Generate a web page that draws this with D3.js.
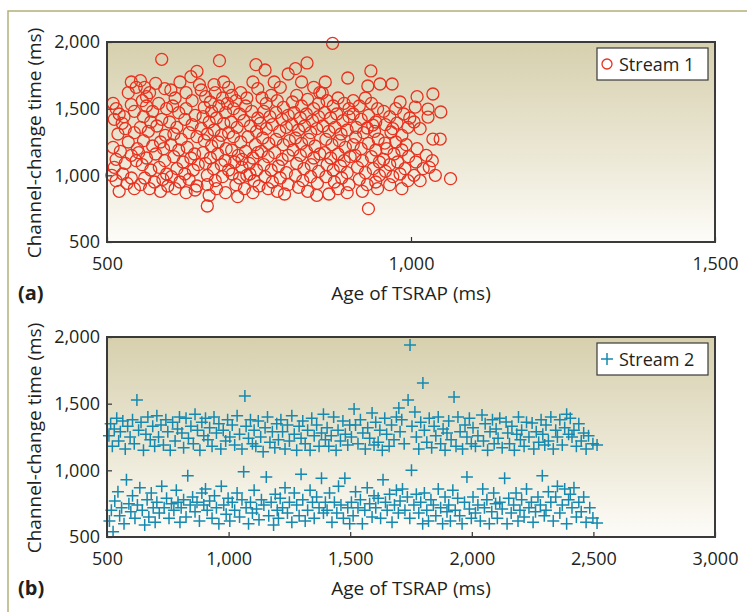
<!DOCTYPE html>
<html>
<head>
<meta charset="utf-8">
<script src="https://cdn.jsdelivr.net/npm/d3@7"></script>
<style>
  body { margin: 0; background: #fff; }
  svg text { font-family: "Open Sans", Lato, sans-serif; fill: #231f20; }
</style>
</head>
<body>
<div id="chart"></div>
<script>
// ---- data ----
// stream 1: [age of TSRAP (ms), channel-change time (ms)]
const stream1Points = [
  [510,1540],[515,1500],[520,1460],[512,1420],[525,1390],[540,1530],[545,1480],[530,1350],[518,1310],[535,1250],
  [510,1210],[522,1180],[540,1150],[515,1120],[530,1090],[548,1110],[512,1060],[526,1010],[540,980],[515,960],
  [533,940],[545,900],[520,880],[540,1700],[548,1660],[535,1620],[528,1440],[545,1320],[508,1000],[550,1200],
  [555,1710],[562,1660],[570,1620],[580,1690],[590,1870],[595,1650],[558,1560],[565,1520],[575,1480],[585,1540],
  [598,1500],[560,1440],[572,1400],[590,1420],[555,1360],[568,1330],[582,1370],[596,1300],[560,1260],[575,1220],
  [588,1250],[552,1170],[565,1130],[580,1160],[595,1110],[558,1080],[572,1040],[586,1060],[598,1010],[562,980],
  [578,950],[592,970],[555,930],[570,900],[588,880],[600,920],[565,1590],[593,1200],
  [605,1640],[612,1580],[620,1700],[630,1620],[640,1560],[648,1780],[608,1520],[618,1470],[630,1500],[645,1450],
  [603,1400],[615,1360],[628,1420],[640,1380],[610,1310],[622,1270],[635,1320],[648,1290],[605,1230],[618,1190],
  [632,1210],[644,1160],[610,1140],[625,1100],[638,1130],[650,1080],[615,1050],[628,1010],[642,1040],[606,990],
  [620,950],[635,970],[648,920],[612,900],[630,870],[645,890],[652,1680],[638,1740],
  [655,1640],[662,1590],[670,1550],[678,1620],[685,1860],[690,1580],[698,1540],[660,1510],[672,1480],[684,1520],
  [695,1470],[658,1440],[668,1400],[680,1430],[692,1390],[655,1350],[665,1310],[676,1340],[688,1300],[700,1320],
  [660,1260],[672,1220],[683,1250],[696,1200],[658,1170],[670,1130],[682,1160],[694,1110],[662,1090],[675,1050],
  [688,1080],[700,1040],[665,1000],[678,960],[690,990],[665,930],[680,900],[695,870],[665,770],[668,850],
  [700,1660],[692,1700],[676,1680],
  [705,1600],[712,1560],[720,1620],[730,1580],[740,1700],[748,1650],[760,1790],[745,1830],[708,1500],[718,1460],
  [728,1520],[738,1480],[748,1430],[704,1400],[714,1360],[725,1410],[736,1370],[746,1330],[708,1290],[720,1250],
  [732,1290],[744,1230],[705,1190],[716,1150],[728,1180],[740,1130],[748,1170],[710,1100],[722,1060],[734,1090],
  [746,1040],[706,1010],[718,980],[730,1000],[742,960],[712,930],[726,900],[740,870],[750,920],[715,840],
  [735,1010],[722,1120],
  [755,1580],[762,1540],[770,1600],[780,1560],[790,1510],[798,1760],[785,1660],[775,1700],[758,1480],[768,1440],
  [778,1470],[788,1420],[798,1450],[752,1390],[762,1350],[772,1380],[784,1330],[795,1360],[756,1280],[766,1240],
  [778,1270],[790,1230],[800,1260],[754,1180],[765,1140],[776,1170],[788,1120],[798,1150],[758,1080],[770,1040],
  [782,1070],[795,1020],[760,990],[772,950],[785,980],[798,930],[765,900],[780,880],[792,860],[810,1800],
  [805,1550],[812,1600],[820,1520],[830,1570],[840,1500],[848,1540],[808,1470],[818,1430],[828,1460],[838,1410],
  [848,1440],[804,1380],[815,1340],[825,1370],[835,1320],[845,1350],[810,1280],[820,1240],[832,1270],[842,1220],
  [806,1190],[818,1150],[828,1180],[840,1130],[850,1160],[812,1090],[824,1050],[836,1080],[848,1030],[810,1000],
  [822,960],[835,990],[846,940],[815,910],[830,880],[845,850],[829,1843],[820,1700],[840,1660],[850,1620],
  [854,1617],[859,1700],[871,1990],[862,1560],[872,1520],[880,1580],[890,1540],[896,1730],[898,1500],[858,1470],
  [868,1430],[878,1460],[888,1410],[898,1440],[855,1370],[865,1330],[875,1360],[885,1310],[895,1340],[860,1270],
  [870,1230],[882,1260],[892,1210],[858,1170],[868,1130],[880,1160],[890,1110],[900,1140],[862,1080],[872,1040],
  [884,1070],[895,1020],[860,990],[874,950],[886,980],[898,930],[880,900],[865,860],[895,870],
  [909,1287],[928,1355],[937,1377],[946,1272],[934,1783],[929,1670],[949,1685],[905,1560],[915,1520],[925,1580],
  [935,1540],[945,1500],[905,1460],[918,1420],[930,1450],[942,1400],[910,1360],[922,1320],[940,1330],[905,1230],
  [918,1200],[930,1240],[942,1190],[908,1150],[920,1110],[935,1140],[948,1100],[912,1060],[925,1020],[938,1050],
  [948,1000],[915,970],[928,930],[942,950],[930,750],[920,880],[945,900],[957,1242],
  [969,1685],[982,1550],[977,1392],[967,1325],[955,1480],[965,1440],[975,1500],[988,1460],[998,1430],[958,1380],
  [970,1350],[985,1300],[995,1360],[960,1200],[972,1160],[985,1190],[996,1140],[955,1120],[965,1080],[978,1100],
  [990,1050],[958,1030],[970,990],[982,1010],[995,960],[965,930],[985,900],[975,1250],[992,1230],
  [1010,1590],[1007,1512],[1028,1497],[1049,1475],[1028,1437],[1036,1610],[1036,1272],[1048,1272],[1065,975],[1005,1400],
  [1015,1350],[1025,1150],[1035,1110],[1010,1200],[1020,1050],[1040,1000],[1005,1000],[1015,960],[1030,1060],[1008,1100]
];

// stream 2: [age of TSRAP (ms), channel-change time (ms)]
const stream2Points = [
  [508,1260],[515,1350],[522,1180],[530,1310],[540,1390],[548,1220],[555,1290],[565,1370],[575,1160],[585,1330],[595,1250],
  [510,620],[525,540],[518,700],[532,770],[545,840],[552,660],[560,720],[570,600],[580,930],[590,750],[598,690],
  [605,1380],[612,1200],[623,1527],[630,1300],[640,1360],[650,1150],[660,1270],[668,1400],[678,1230],[688,1330],[696,1180],
  [605,810],[615,640],[625,740],[635,870],[645,700],[655,590],[665,780],[672,650],[682,830],[690,720],[698,610],
  [705,1410],[712,1250],[722,1340],[732,1190],[742,1380],[750,1290],[760,1150],[770,1360],[780,1220],[790,1310],[798,1400],
  [705,760],[715,680],[725,880],[735,720],[745,790],[755,640],[765,750],[775,700],[785,850],[792,760],[800,610],
  [808,1280],[815,1170],[825,1390],[835,1240],[845,1330],[855,1200],[862,1420],[872,1300],[882,1150],[890,1360],[898,1260],
  [805,720],[815,780],[825,650],[832,960],[842,740],[852,800],[862,690],[870,760],[880,620],[890,830],[898,740],
  [905,1390],[915,1230],[922,1320],[932,1180],[940,1400],[950,1280],[960,1350],[968,1160],[978,1300],[988,1220],[996,1380],
  [905,860],[912,700],[922,770],[932,640],[942,810],[950,720],[960,600],[970,880],[980,740],[990,670],[998,790],
  [1005,1250],[1015,1340],[1025,1190],[1035,1410],[1045,1270],[1055,1160],[1067,1557],[1072,1330],[1082,1240],[1090,1380],[1098,1200],
  [1005,620],[1015,760],[1025,700],[1035,830],[1045,650],[1055,780],[1062,990],[1072,720],[1082,600],[1090,760],[1098,680],
  [1105,1300],[1112,1180],[1122,1370],[1132,1250],[1142,1140],[1150,1320],[1160,1400],[1170,1210],[1180,1290],[1190,1170],[1198,1350],
  [1105,850],[1115,710],[1125,630],[1135,780],[1145,740],[1155,950],[1165,660],[1175,760],[1185,590],[1192,820],[1200,700],
  [1205,1230],[1215,1380],[1222,1290],[1232,1160],[1242,1340],[1250,1220],[1260,1410],[1270,1270],[1280,1150],[1290,1330],[1298,1240],
  [1205,640],[1212,790],[1222,720],[1232,870],[1242,680],[1250,760],[1260,610],[1270,830],[1280,740],[1290,660],[1298,970],
  [1305,1370],[1315,1200],[1325,1300],[1335,1150],[1342,1390],[1352,1260],[1362,1340],[1372,1180],[1382,1280],[1390,1420],[1398,1230],
  [1305,780],[1315,620],[1325,700],[1335,850],[1345,760],[1352,640],[1362,800],[1372,720],[1382,940],[1390,680],[1398,760],
  [1405,1320],[1412,1180],[1422,1260],[1432,1400],[1442,1150],[1450,1300],[1460,1220],[1470,1370],[1480,1270],[1490,1190],[1498,1340],
  [1405,700],[1415,830],[1425,610],[1435,760],[1445,680],[1452,880],[1462,740],[1472,640],[1478,940],[1490,720],[1498,600],
  [1505,1250],[1516,1460],[1522,1340],[1532,1200],[1542,1380],[1552,1280],[1562,1160],[1572,1320],[1580,1240],[1590,1430],[1598,1190],
  [1505,760],[1512,660],[1522,840],[1532,720],[1542,780],[1550,600],[1560,700],[1570,870],[1580,750],[1590,650],[1598,810],
  [1605,1360],[1615,1210],[1622,1300],[1632,1150],[1642,1390],[1650,1270],[1660,1180],[1670,1340],[1680,1230],[1690,1400],[1700,1467],
  [1605,720],[1615,790],[1625,640],[1635,930],[1645,760],[1652,700],[1662,820],[1672,610],[1682,740],[1690,850],[1698,680],
  [1705,1290],[1712,1380],[1722,1200],[1738,1527],[1746,1940],[1754,1330],[1766,1437],[1772,1250],[1782,1160],[1790,1360],[1799,1655],
  [1705,770],[1715,860],[1725,700],[1735,800],[1745,640],[1752,1000],[1762,740],[1772,820],[1782,680],[1790,760],[1798,600],
  [1805,1300],[1815,1210],[1825,1390],[1835,1170],[1845,1330],[1852,1260],[1862,1400],[1872,1200],[1882,1310],[1890,1150],[1898,1280],
  [1805,830],[1815,700],[1822,620],[1832,780],[1842,740],[1852,660],[1862,860],[1872,720],[1880,600],[1890,800],[1898,690],
  [1905,1370],[1915,1230],[1927,1550],[1935,1180],[1943,1400],[1952,1290],[1962,1160],[1972,1340],[1980,1250],[1990,1390],[1998,1200],
  [1905,740],[1912,620],[1922,850],[1932,700],[1942,790],[1950,660],[1960,600],[1970,760],[1980,950],[1990,710],[1998,640],
  [2005,1320],[2015,1180],[2025,1260],[2042,1415],[2048,1220],[2055,1350],[2065,1150],[2075,1290],[2085,1380],[2092,1200],[2100,1310],
  [2005,800],[2015,680],[2025,740],[2035,620],[2045,860],[2052,720],[2062,780],[2072,600],[2082,690],[2090,830],[2098,750],
  [2108,1240],[2115,1390],[2125,1170],[2141,1362],[2148,1280],[2155,1200],[2165,1330],[2175,1150],[2185,1270],[2192,1400],[2200,1230],
  [2105,640],[2115,760],[2125,710],[2135,940],[2145,600],[2152,790],[2162,680],[2172,740],[2182,830],[2190,620],[2198,700],
  [2205,1300],[2215,1180],[2225,1360],[2235,1250],[2248,1355],[2255,1160],[2265,1290],[2275,1210],[2285,1380],[2292,1270],[2300,1190],
  [2205,780],[2215,650],[2225,860],[2235,720],[2245,760],[2252,610],[2262,690],[2272,800],[2282,740],[2290,960],[2298,660],
  [2305,1340],[2315,1220],[2325,1400],[2335,1160],[2345,1300],[2352,1250],[2362,1380],[2372,1190],[2382,1320],[2390,1420],[2398,1270],
  [2305,700],[2315,840],[2325,760],[2335,620],[2345,800],[2352,880],[2362,680],[2372,740],[2382,860],[2390,600],[2398,780],
  [2405,1390],[2412,1250],[2420,1300],[2430,1180],[2440,1350],[2450,1220],[2460,1280],[2470,1160],[2480,1260],[2498,1200],[2515,1190],
  [2405,820],[2412,720],[2420,870],[2430,650],[2440,760],[2450,690],[2460,800],[2470,610],[2485,720],[2498,643],[2515,605]
];

const yTicks = [500, 1000, 1500, 2000];
const xTicksA = [500, 1000, 1500];
const xTicksB = [500, 1000, 1500, 2000, 2500, 3000];

const yTitle = "Channel-change time (ms)";
const xTitle = "Age of TSRAP (ms)";

// ---- page ----
const width = 747;
const height = 612;

const svg = d3.select("#chart")
  .append("svg")
  .attr("width", width)
  .attr("height", height);

// background gradient used by both plot areas
const grad = svg.append("defs")
  .append("linearGradient")
  .attr("id", "bg")
  .attr("x1", 0).attr("y1", 0)
  .attr("x2", 0).attr("y2", 1);
grad.append("stop").attr("offset", "0%").attr("stop-color", "#d6d0ae");
grad.append("stop").attr("offset", "55%").attr("stop-color", "#ebe7d4");
grad.append("stop").attr("offset", "100%").attr("stop-color", "#fdfcf8");

// olive frame on top and left of figure
svg.append("path")
  .attr("d", "M8,612V11H747")
  .attr("fill", "none")
  .attr("stroke", "#b4ae78")
  .attr("stroke-width", 1.5);

const fmt = d3.format(",");

function drawPanel(opts) {
  const left = 107, right = 715;
  const top = opts.top, bottom = opts.top + 200;

  const x = d3.scaleLinear().domain(opts.xDomain).range([left, right]);
  const y = d3.scaleLinear().domain([500, 2000]).range([bottom, top]);

  const g = svg.append("g");

  g.append("rect")
    .attr("x", left).attr("y", top)
    .attr("width", right - left).attr("height", bottom - top)
    .attr("fill", "url(#bg)");

  // axes, ticks pointing inward
  const xAxis = d3.axisBottom(x)
    .tickValues(opts.xTicks)
    .tickSize(-5)
    .tickPadding(15)
    .tickFormat(fmt);

  const yAxis = d3.axisLeft(y)
    .tickValues(yTicks)
    .tickSize(-5)
    .tickPadding(7)
    .tickFormat(fmt);

  const gx = g.append("g")
    .attr("transform", `translate(0,${bottom})`)
    .call(xAxis);
  const gy = g.append("g")
    .attr("transform", `translate(${left},0)`)
    .call(yAxis);

  [gx, gy].forEach((a) => {
    a.select(".domain").remove();
    a.selectAll(".tick line").attr("stroke", "#333").attr("stroke-width", 1.2);
    a.selectAll(".tick text")
      .attr("font-size", 18)
      .attr("font-family", "'Open Sans', Lato, sans-serif")
      .attr("fill", "#231f20");
  });

  // points
  if (opts.symbol === "circle") {
    g.append("g")
      .selectAll("circle")
      .data(opts.points)
      .enter()
      .append("circle")
      .attr("cx", (d) => x(d[0]))
      .attr("cy", (d) => y(d[1]))
      .attr("r", 6)
      .attr("fill", "none")
      .attr("stroke", opts.color)
      .attr("stroke-width", 1.3);
  } else {
    g.append("g")
      .selectAll("path")
      .data(opts.points)
      .enter()
      .append("path")
      .attr("d", "M-6,0H6M0,-6V6")
      .attr("transform", (d) => `translate(${x(d[0])},${y(d[1])})`)
      .attr("fill", "none")
      .attr("stroke", opts.color)
      .attr("stroke-width", 1.5);
  }

  // frame
  g.append("rect")
    .attr("x", left).attr("y", top)
    .attr("width", right - left).attr("height", bottom - top)
    .attr("fill", "none")
    .attr("stroke", "#3a3a3a")
    .attr("stroke-width", 2);

  // legend
  const lg = g.append("g").attr("transform", `translate(597,${top + 6})`);
  lg.append("rect")
    .attr("width", 111).attr("height", 32)
    .attr("fill", "#fff")
    .attr("stroke", "#3a3a3a")
    .attr("stroke-width", 1.2);
  if (opts.symbol === "circle") {
    lg.append("circle")
      .attr("cx", 10).attr("cy", 16).attr("r", 5)
      .attr("fill", "none").attr("stroke", opts.color).attr("stroke-width", 1.3);
  } else {
    lg.append("path")
      .attr("d", "M4,16H16M10,10V22")
      .attr("fill", "none").attr("stroke", opts.color).attr("stroke-width", 1.5);
  }
  lg.append("text")
    .attr("x", 22).attr("y", 23)
    .attr("font-size", 18)
    .text(opts.label);

  // titles
  g.append("text")
    .attr("transform", `translate(41,${top + 101}) rotate(-90)`)
    .attr("text-anchor", "middle")
    .attr("font-size", 19)
    .text(yTitle);

  g.append("text")
    .attr("x", 411).attr("y", bottom + 58)
    .attr("text-anchor", "middle")
    .attr("font-size", 19)
    .text(xTitle);

  g.append("text")
    .attr("x", 18).attr("y", bottom + 58)
    .attr("font-size", 20)
    .attr("font-weight", "bold")
    .text(opts.panel);
}

drawPanel({
  top: 42,
  xDomain: [500, 1500],
  xTicks: xTicksA,
  points: stream1Points,
  symbol: "circle",
  color: "#e8311f",
  label: "Stream 1",
  panel: "(a)"
});

drawPanel({
  top: 337,
  xDomain: [500, 3000],
  xTicks: xTicksB,
  points: stream2Points,
  symbol: "plus",
  color: "#1589b0",
  label: "Stream 2",
  panel: "(b)"
});
</script>
</body>
</html>
